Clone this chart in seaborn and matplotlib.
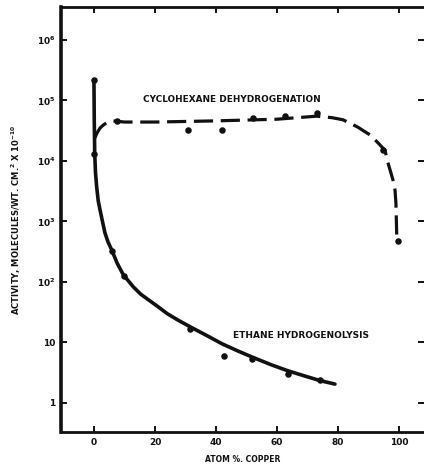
import numpy as np
import pandas as pd
import matplotlib
matplotlib.use("Agg")
import matplotlib.pyplot as plt
import seaborn as sns

# ---- data ----
# measured points
ethane_x = [0, 5.9, 9.8, 31.5, 42.6, 51.8, 63.6, 74.0]
ethane_y = [2.2e5, 330, 125, 17, 6.0, 5.3, 3.0, 2.4]
cyclo_x = [0, 7.5, 30.8, 42.0, 52.0, 62.5, 73.0, 94.8, 99.7]
cyclo_y = [1.3e4, 4.6e4, 3.2e4, 3.2e4, 5.1e4, 5.5e4, 6.2e4, 1.5e4, 480]

# hand-drawn curves
ethane_curve_x = [0, 0.1, 0.25, 0.5, 0.9, 1.4, 2.0, 2.8, 3.6, 4.6, 5.8, 7.6, 9.6,
                  12.9, 15.3, 17.8, 21, 24, 27.5, 31.5, 37, 42, 47, 52, 58, 63.6,
                  69, 74, 79]
ethane_curve_y = [2.2e5, 5e4, 1.35e4, 6.5e3, 3.7e3, 2.2e3, 1.55e3, 1.0e3, 650, 460,
                  340, 205, 132, 83, 63, 51, 39, 30, 23.5, 18.2, 13, 9.5, 7.3, 5.7,
                  4.3, 3.4, 2.8, 2.35, 2.05]
cyclo_curve_x = [0.3, 1.0, 2.0, 3.0, 4.2, 6.2, 10, 20, 40, 60, 73, 78, 81.6, 84,
                 86.6, 88.6, 90.5, 93.1, 95.4, 96.4, 97.3, 98.0, 98.7, 99.0, 99.3]
cyclo_curve_y = [2.4e4, 2.9e4, 3.5e4, 3.9e4, 4.3e4, 4.6e4, 4.4e4, 4.4e4, 4.6e4,
                 4.9e4, 5.5e4, 5.2e4, 4.8e4, 4.2e4, 3.6e4, 3.1e4, 2.7e4, 2.0e4,
                 1.5e4, 9.3e3, 6.5e3, 4.9e3, 3.3e3, 2.0e3, 490]

x_ticks = [0, 20, 40, 60, 80, 100]
y_ticks = [1, 10, 1e2, 1e3, 1e4, 1e5, 1e6]
y_tick_labels = ["1", "10", "10$^{2}$", "10$^{3}$", "10$^{4}$", "10$^{5}$", "10$^{6}$"]

label_cyclo = "CYCLOHEXANE DEHYDROGENATION"
label_ethane = "ETHANE HYDROGENOLYSIS"
xlabel = "ATOM %. COPPER"
ylabel = "ACTIVITY, MOLECULES/WT. CM.$^{2}$ X 10$^{-10}$"

# ---- plotting ----
sns.set_style("ticks")
plt.rcParams["font.family"] = ["DejaVu Sans"]
plt.rcParams["mathtext.default"] = "bf"

fig = plt.figure(figsize=(4.24, 4.69), dpi=100)
ax = fig.add_axes([61 / 424, 37 / 469, 363 / 424, 425 / 469])

ink = "#111111"

df_e = pd.DataFrame({"x": ethane_curve_x, "y": ethane_curve_y})
df_c = pd.DataFrame({"x": cyclo_curve_x, "y": cyclo_curve_y})
sns.lineplot(data=df_e, x="x", y="y", ax=ax, color=ink, lw=2.6, sort=False,
             estimator=None)
ax.lines[-1].set_solid_joinstyle("round")
ax.lines[-1].set_solid_capstyle("round")
sns.lineplot(data=df_c, x="x", y="y", ax=ax, color=ink, lw=2.3, sort=False,
             estimator=None)
ax.lines[-1].set_dashes((6, 2.4))

pts_e = pd.DataFrame({"x": ethane_x, "y": ethane_y})
pts_c = pd.DataFrame({"x": cyclo_x, "y": cyclo_y})
sns.scatterplot(data=pts_e, x="x", y="y", ax=ax, color=ink, s=22, linewidth=0, zorder=5)
sns.scatterplot(data=pts_c, x="x", y="y", ax=ax, color=ink, s=22, linewidth=0, zorder=5)

ax.set_yscale("log")
ax.set_xlim(-10.8, 108.2)
ax.set_ylim(10 ** -0.48, 10 ** 6.545)
ax.set_xticks(x_ticks)
ax.set_xticklabels([str(t) for t in x_ticks], fontsize=6.5, fontweight="bold")
ax.set_yticks(y_ticks)
ax.set_yticklabels(y_tick_labels, fontsize=6.5, fontweight="bold")
ax.yaxis.set_minor_locator(matplotlib.ticker.NullLocator())

ax.tick_params(axis="both", which="major", direction="in", length=4, width=1.4,
               colors=ink, top=True, right=True, pad=4)
for side in ["left", "bottom", "top"]:
    ax.spines[side].set_linewidth(2.0)
    ax.spines[side].set_color(ink)
ax.spines["left"].set_linewidth(2.6)
ax.spines["right"].set_visible(False)

ax.set_xlabel(xlabel, fontsize=5.5, fontweight="bold", color=ink, labelpad=6)
ax.set_ylabel(ylabel, fontsize=6, fontweight="bold", color=ink, labelpad=10)

ax.text(45.2, 1.05e5, label_cyclo, fontsize=6.4, fontweight="bold", color=ink,
        ha="center", va="center")
ax.text(68, 13, label_ethane, fontsize=6.5, fontweight="bold", color=ink,
        ha="center", va="center")

fig.savefig("out.png", dpi=100)
